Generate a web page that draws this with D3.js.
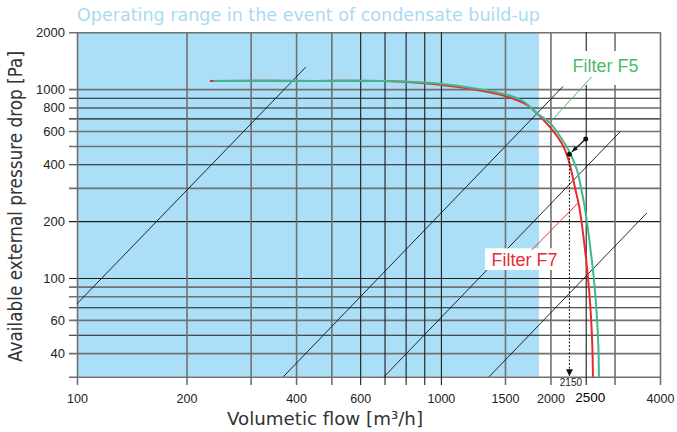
<!DOCTYPE html>
<html><head><meta charset="utf-8">
<script src="https://cdn.jsdelivr.net/npm/d3@7"></script>
<style>html,body{margin:0;padding:0;background:#fff;} svg{display:block;}</style>
</head><body><svg id="c" width="677" height="432"></svg>
<script>
// ---- data ----
const flowGrid = [100,200,300,400,500,600,700,800,900,1000,1500,2000,2500,3000,4000];
const flowTickLabels = [100,200,400,600,1000,1500,2000,2500,4000];
const pressureGrid = [2000,1000,900,800,700,600,500,400,300,200,100,90,80,70,60,50,40,30];
const pressureTickLabels = [2000,1000,800,600,400,200,100,60,40];

const f5Flow     = [237,450,700,900,995,1229,1518,1686,1835,1996,2127,2265,2364,2433,2499,2571,2634,2679,2708,2718];
const f5Pressure = [1106,1106,1104,1083,1067,1012,933,860,746,661,561,458,374,293,221,147,98,65.3,43.5,30];
const f7Flow     = [232,450,700,900,995,1229,1518,1722,1874,2039,2171,2241,2290,2343,2399,2483,2539,2581,2607,2617];
const f7Pressure = [1106,1106,1103,1075,1054,1000,914,826,716,597,497,423,359,293,239,147,98,65.3,43.5,30];

const sysFlowStart     = [100, 369, 698, 1357];
const sysPressureStart = [73, 30, 30, 30];
const sysFlowEnd       = [425, 2167, 3109, 3681];
const sysPressureEnd   = [1306, 1035, 595, 221];

const condensateMaxFlow = 1860;
const opFlow = [2500, 2255];
const opPressure = [545, 452];
const opLabel = "2150";

const titleText = "Operating range in the event of condensate build-up";
const xTitle = "Volumetic flow [m\u00b3/h]";
const yTitle = "Available external pressure drop [Pa]";

// ---- drawing ----
const svg = d3.select("#c");
const x = d3.scaleLog().domain([100,4000]).range([77,660]);
const y = d3.scaleLog().domain([30,2000]).range([376.7,32.3]);

const grayH = new Set([2000,1000,600,500,300,90,80,60,40,30]);
const grayV = new Set([100,200,300,400,500,1500,2000,3000,4000]);

svg.append("rect")
  .attr("x", x(100)).attr("y", y(2000))
  .attr("width", x(condensateMaxFlow)-x(100))
  .attr("height", y(30)-y(2000))
  .attr("fill", "#abdff8");

// horizontal grid + y labels
const yAxis = svg.append("g").attr("transform","translate(69,0)")
  .call(d3.axisLeft(y).tickValues(pressureGrid).tickSize(-(660-69)).tickPadding(4)
    .tickFormat(d => pressureTickLabels.includes(d) ? String(d) : ""));
yAxis.select(".domain").remove();
yAxis.selectAll(".tick line")
  .attr("stroke", d => grayH.has(d) ? "#707070" : "#1c1c1c")
  .attr("stroke-width", d => grayH.has(d) ? 1.6 : 1.1);
yAxis.selectAll(".tick text")
  .attr("font-family","Liberation Sans, Arial, sans-serif")
  .attr("font-size", 13).attr("fill","#222");

// vertical grid + x labels
const xAxis = svg.append("g").attr("transform","translate(0,385)")
  .call(d3.axisBottom(x).tickValues(flowGrid).tickSize(-(385-32.3)).tickPadding(9.5)
    .tickFormat(d => flowTickLabels.includes(d) ? String(d) : ""));
xAxis.select(".domain").remove();
xAxis.selectAll(".tick line")
  .attr("stroke", d => grayV.has(d) ? "#707070" : "#1c1c1c")
  .attr("stroke-width", d => grayV.has(d) ? 1.6 : 1.1);
xAxis.selectAll(".tick text")
  .attr("font-family","Liberation Sans, Arial, sans-serif")
  .attr("dx", d => d === 2500 ? 4 : 0)
  .attr("dy", d => d === 2500 ? "0.55em" : "0.71em")
  .attr("font-size", d => d === 2500 ? 13.5 : 12.5)
  .attr("fill", d => d === 2500 ? "#000" : "#222");

// system curves
svg.append("g").selectAll("line").data(sysFlowStart).join("line")
  .attr("x1", (d,i) => x(sysFlowStart[i])).attr("y1", (d,i) => y(sysPressureStart[i]))
  .attr("x2", (d,i) => x(sysFlowEnd[i])).attr("y2", (d,i) => y(sysPressureEnd[i]))
  .attr("stroke","#111").attr("stroke-width",0.9);

// fan curves
const line = d3.line().x(d => x(d[0])).y(d => y(d[1])).curve(d3.curveCatmullRom.alpha(0.5));
const f5 = f5Flow.map((q,i) => [q, f5Pressure[i]]);
const f7 = f7Flow.map((q,i) => [q, f7Pressure[i]]);
svg.append("path").attr("d", line(f7)).attr("fill","none").attr("stroke","#e62b2e").attr("stroke-width",2);
svg.append("path").attr("d", line(f5)).attr("fill","none").attr("stroke","#3fb98d").attr("stroke-width",2);

// operating point arrow
const defs = svg.append("defs");
defs.append("marker").attr("id","ah").attr("viewBox","0 0 10 10").attr("refX",10).attr("refY",5)
  .attr("markerWidth",6).attr("markerHeight",6).attr("orient","auto")
  .attr("markerUnits","userSpaceOnUse")
  .append("path").attr("d","M0,1 L10,5 L0,9 z").attr("fill","#111");
defs.append("marker").attr("id","ah2").attr("viewBox","0 0 10 10").attr("refX",10).attr("refY",5)
  .attr("markerWidth",11).attr("markerHeight",7).attr("orient","auto")
  .attr("markerUnits","userSpaceOnUse")
  .append("path").attr("d","M0,0 L10,5 L0,10 z").attr("fill","#111");

svg.append("line")
  .attr("x1", x(opFlow[1])).attr("y1", y(opPressure[1]))
  .attr("x2", x(opFlow[1])).attr("y2", y(30)-0.5)
  .attr("stroke","#111").attr("stroke-width",1).attr("stroke-dasharray","2,1.6")
  .attr("marker-end","url(#ah2)");
svg.append("line")
  .attr("x1", x(opFlow[0])).attr("y1", y(opPressure[0]))
  .attr("x2", x(opFlow[1])+2.5).attr("y2", y(opPressure[1])-2.4)
  .attr("stroke","#111").attr("stroke-width",1.3)
  .attr("marker-end","url(#ah)");
svg.append("g").selectAll("circle").data(opFlow).join("circle")
  .attr("cx", (d,i) => x(opFlow[i])).attr("cy", (d,i) => y(opPressure[i]))
  .attr("r", 2.5).attr("fill","#111");
svg.append("text").attr("x", x(opFlow[1]) + 1.5).attr("y", 386)
  .attr("text-anchor","middle").attr("font-family","Liberation Sans, Arial, sans-serif")
  .attr("font-size", 10).attr("fill","#222").text(opLabel);

// labels Filter F5 / F7
const lab = "Liberation Sans, Arial, sans-serif";
svg.append("rect").attr("x", 563).attr("y", 51).attr("width", 89).attr("height", 34).attr("fill","#fff");
svg.append("line").attr("x1", 591.7).attr("y1", 76.7).attr("x2", x(1990)).attr("y2", y(664))
  .attr("stroke","#4cb86a").attr("stroke-width",1);
svg.append("text").attr("x", 572.5).attr("y", 71.5).attr("font-family",lab).attr("font-size",18)
  .attr("fill","#4dba6b").text("Filter F5");

svg.append("rect").attr("x", 485).attr("y", 248.3).attr("width", 75).attr("height", 21.7).attr("fill","#fff");
svg.append("line").attr("x1", 531.7).attr("y1", 250).attr("x2", x(2395)).attr("y2", y(252))
  .attr("stroke","#e62b3a").attr("stroke-width",1);
svg.append("text").attr("x", 491.5).attr("y", 266).attr("font-family",lab).attr("font-size",18)
  .attr("fill","#e62b3a").text("Filter F7");

// titles
svg.append("text").attr("x", 77).attr("y", 21).attr("font-family","DejaVu Sans, sans-serif")
  .attr("font-size", 17).attr("fill","#a8daf4")
  .attr("textLength", 463).attr("lengthAdjust","spacingAndGlyphs").text(titleText);
svg.append("text").attr("x", 227).attr("y", 425).attr("font-family","DejaVu Sans, sans-serif")
  .attr("font-size", 18).attr("fill","#333")
  .attr("textLength", 196).attr("lengthAdjust","spacingAndGlyphs").text(xTitle);
svg.append("text").attr("transform","translate(22,362) rotate(-90)")
  .attr("font-family","DejaVu Sans, sans-serif")
  .attr("font-size", 19).attr("fill","#333")
  .attr("textLength", 311).attr("lengthAdjust","spacingAndGlyphs").text(yTitle);
</script>
</body></html>
